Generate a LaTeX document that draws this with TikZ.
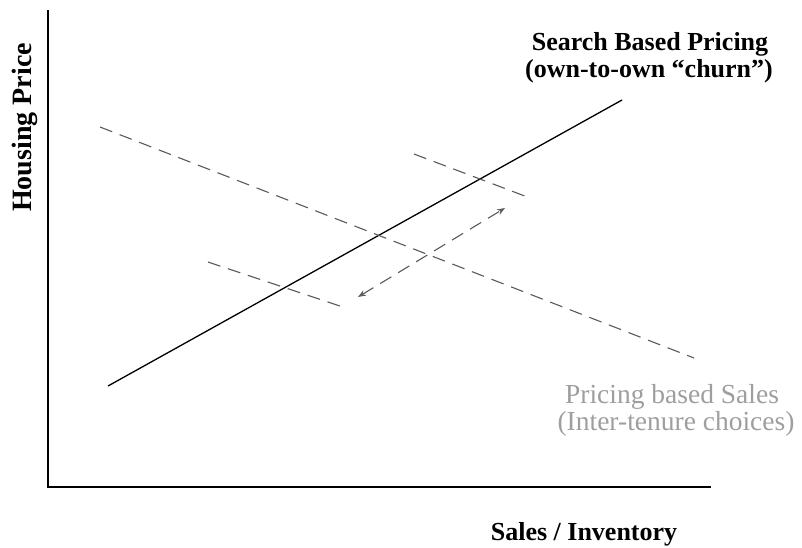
\documentclass[tikz,border=0pt]{standalone}
\usepackage{fontspec}
\setmainfont{Liberation Serif}
\usetikzlibrary{arrows.meta}
\begin{document}
\begin{tikzpicture}[x=1pt,y=-1pt,
  axis/.style={line width=1.4pt,black},
  solidline/.style={line width=1.3pt,black},
  dashline/.style={line width=1.1pt,black!65,dash pattern=on 13pt off 8pt},
  lbl/.style={font=\fontsize{26}{30}\selectfont\bfseries,inner sep=0pt,anchor=base},
  glbl/.style={font=\fontsize{27.5}{30}\selectfont,text=black!38,inner sep=0pt,anchor=base}]
\useasboundingbox (0,0) rectangle (802,547);
\coordinate (ytop) at (48,10);
\coordinate (org) at (48,487);
\coordinate (xend) at (711,487);
\draw[axis] (ytop) -- (org) -- (xend);
\coordinate (s1) at (108,386);
\coordinate (s2) at (622,100);
\draw[solidline] (s1) -- (s2);
\coordinate (d1) at (100,127);
\coordinate (d2) at (694,358);
\draw[dashline] (d1) -- (d2);
\coordinate (u1) at (414,154);
\coordinate (u2) at (530,198);
\draw[dashline] (u1) -- (u2);
\coordinate (l1) at (208,262);
\coordinate (l2) at (340,306);
\draw[dashline] (l1) -- (l2);
\coordinate (a1) at (358,297);
\coordinate (a2) at (505,208);
\draw[dashline,{Stealth[open,length=8pt,width=6pt]}-{Stealth[open,length=8pt,width=6pt]}] (a1) -- (a2);
\node[lbl] (search1) at (650,50) {Search Based Pricing};
\node[lbl] (search2) at (649,77) {(own-to-own “churn”)};
\node[glbl] (pricing1) at (672,403) {Pricing based Sales};
\node[glbl] (pricing2) at (676,430) {(Inter-tenure choices)};
\node[lbl,font=\fontsize{28}{30}\selectfont\bfseries,rotate=90] (ylab) at (31.5,127.5) {Housing Price};
\node[lbl] (xlab) at (584,540) {Sales / Inventory};
\end{tikzpicture}
\end{document}
